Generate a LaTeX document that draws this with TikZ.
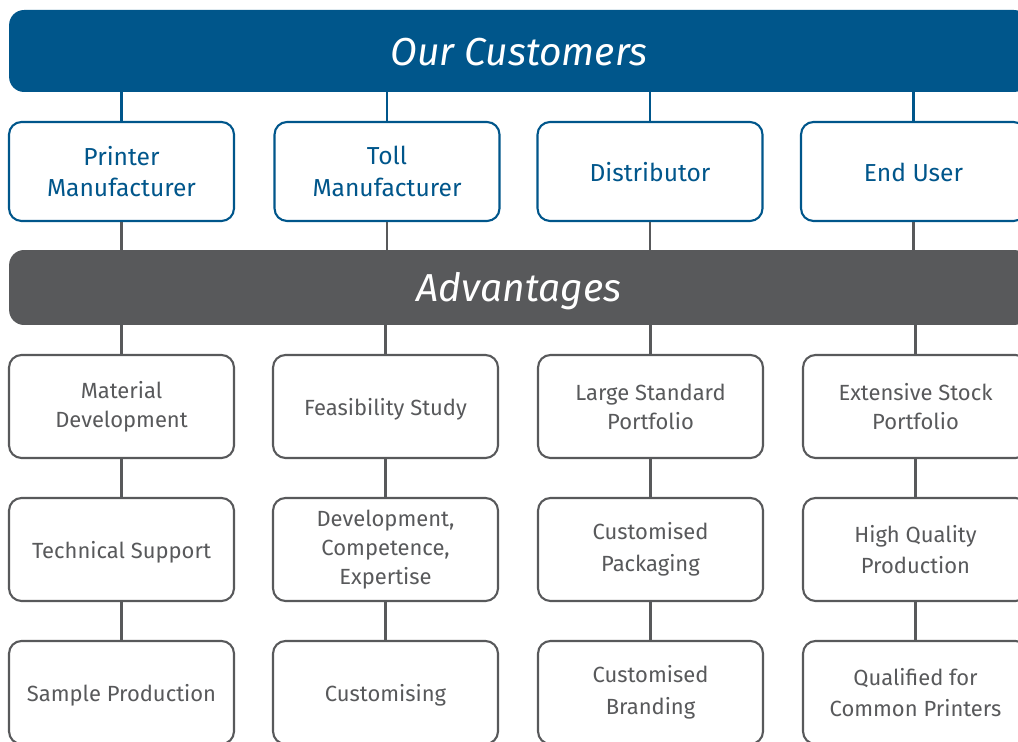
\documentclass[tikz,border=0pt]{standalone}
\usepackage{fontspec}
\setmainfont{Fira Sans}
\usetikzlibrary{positioning}

\definecolor{custblue}{RGB}{0,86,139}
\definecolor{advgray}{RGB}{88,89,91}

\begin{document}
\begin{tikzpicture}[x=0.02cm, y=-0.02cm,
    banner/.style={rounded corners=0.3cm, minimum width=20.4cm, text=white, text height=16.5pt, text depth=0pt, font=\fontsize{22.2}{27}\selectfont\itshape},
    custbox/.style={draw=custblue, line width=1.2pt, rounded corners=0.25cm, fill=white, minimum width=4.5cm, minimum height=1.98cm, align=center, text=custblue, font=\fontsize{14}{18}\selectfont, execute at begin node={\rule{0pt}{12pt}}},
    advbox/.style={draw=advgray, line width=1.2pt, rounded corners=0.25cm, fill=white, minimum width=4.5cm, minimum height=2.06cm, align=center, text=advgray, font=\fontsize{12.5}{16.5}\selectfont, execute at begin node={\rule{0pt}{12.7pt}}},
    wide/.style={font=\fontsize{12.5}{18}\selectfont},
    custline/.style={draw=custblue, line width=1.2pt},
    advline/.style={draw=advgray, line width=1.2pt}]
    \clip (0,0) rectangle (1018,742);
    \useasboundingbox (0,0) rectangle (1018,742);
    %Our Customers
    \node[banner, fill=custblue, minimum height=1.64cm] (cust) at (519,51) {Our Customers};
    %Advantages
    \node[banner, fill=advgray, minimum height=1.5cm] (adv) at (519,287.5) {Advantages};

    %Customers
    \node[custbox] (printer) at (121.5,171.5) {Printer\\Manufacturer};
    \node[custbox] (toll) at (387,171.5) {Toll\\Manufacturer};
    \node[custbox] (distr) at (650,171.5) {Distributor};
    \node[custbox] (enduser) at (913.5,171.5) {End User};

    %Advantages row 1
    \node[advbox] (matdev) at (121.5,406.5) {Material\\Development};
    \node[advbox] (feas) at (385.5,406.5) {Feasibility Study};
    \node[advbox] (largeport) at (650.5,406.5) {Large Standard\\Portfolio};
    \node[advbox] (stockport) at (915.5,406.5) {Extensive Stock\\Portfolio};
    %Advantages row 2
    \node[advbox] (techsup) at (121.5,549.5) {Technical Support};
    \node[advbox] (devcomp) at (385.5,549.5) {Development,\\Competence,\\Expertise};
    \node[advbox, wide] (custpack) at (650.5,549.5) {Customised\\Packaging};
    \node[advbox, wide] (highqual) at (915.5,549.5) {High Quality\\Production};
    %Advantages row 3
    \node[advbox] (sample) at (121.5,692.5) {Sample Production};
    \node[advbox] (customising) at (385.5,692.5) {Customising};
    \node[advbox, wide] (custbrand) at (650.5,692.5) {Customised\\Branding};
    \node[advbox, wide] (qualified) at (915.5,692.5) {Qualified for\\Common Printers};

    %Our Customers - Customers
    \foreach \c in {printer, toll, distr, enduser}
        \draw[custline] (cust.south -| \c.north) -- (\c.north);
    %Customers - Advantages
    \foreach \c in {printer, toll, distr, enduser}
        \draw[advline] (\c.south) -- (adv.north -| \c.south);
    %Advantages - rows
    \foreach \a/\b/\c in {matdev/techsup/sample, feas/devcomp/customising, largeport/custpack/custbrand, stockport/highqual/qualified}{
        \draw[advline] (adv.south -| \a.north) -- (\a.north);
        \draw[advline] (\a.south) -- (\b.north);
        \draw[advline] (\b.south) -- (\c.north);
    }
\end{tikzpicture}
\end{document}
